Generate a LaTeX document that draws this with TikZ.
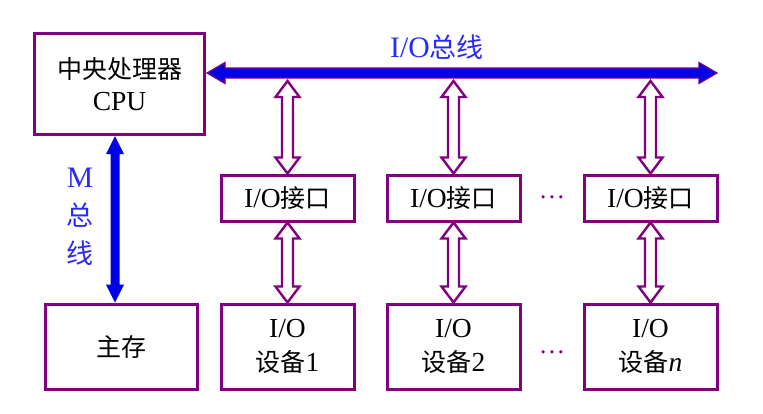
\documentclass[tikz,border=0pt]{standalone}
\usepackage{fontspec}
\setmainfont{Liberation Serif}[Scale=1.1]
\newfontfamily\cjk{Noto Sans CJK SC}
\usetikzlibrary{calc}
\definecolor{boxpurple}{RGB}{128,0,128}
\definecolor{busblue}{RGB}{0,0,230}
\definecolor{lblblue}{RGB}{40,40,255}
\newcommand\hollowv[2]{%
  \draw[hollowarrow] let \p1=(#1), \p2=(#2) in
   (\x1,\y1) -- (\x1+12pt,\y1-16pt) -- (\x1+5.5pt,\y1-16pt) -- (\x1+5.5pt,\y2+16pt)
   -- (\x1+12pt,\y2+16pt) -- (\x1,\y2) -- (\x1-12pt,\y2+16pt) -- (\x1-5.5pt,\y2+16pt)
   -- (\x1-5.5pt,\y1-16pt) -- (\x1-12pt,\y1-16pt) -- cycle;}
\begin{document}
\begin{tikzpicture}[x=1pt,y=-1pt,
  box/.style={draw=boxpurple, line width=3pt, align=center, inner sep=0pt,
    font=\fontsize{25}{34}\selectfont},
  hollowarrow/.style={draw=boxpurple, fill=white, line width=2.4pt, line join=miter},
  busarrow/.style={draw=boxpurple, fill=busblue, line width=1.2pt, line join=miter},
  marrow/.style={fill=busblue},
  lbl/.style={text=lblblue, font=\fontsize{27}{30}\selectfont, inner sep=0pt},
  dots/.style={text=boxpurple, font=\fontsize{24}{26}\selectfont, inner sep=0pt}]
\useasboundingbox (0,0) rectangle (763,413);

\node[box, minimum width=170pt, minimum height=101pt, font=\fontsize{25}{32}\selectfont] (cpu) at (119.5,84) {{\cjk 中央处理器}\\CPU};
\node[box, minimum width=152pt, minimum height=85pt] (mem) at (121,346.5) {\cjk 主存};

\node[box, minimum width=133pt, minimum height=46pt] (if1) at (287.5,198) {I/O{\cjk 接口}};
\node[box, minimum width=133pt, minimum height=46pt] (if2) at (453.5,198) {I/O{\cjk 接口}};
\node[box, minimum width=133pt, minimum height=46pt] (if3) at (650.5,198) {I/O{\cjk 接口}};

\node[box, minimum width=133pt, minimum height=85pt] (dev1) at (287.5,346.5) {I/O\\{\cjk 设备}1};
\node[box, minimum width=133pt, minimum height=85pt] (dev2) at (453.5,346.5) {I/O\\{\cjk 设备}2};
\node[box, minimum width=133pt, minimum height=85pt] (devn) at (650.5,346.5) {I/O\\{\cjk 设备}\textit{n}};

\node[dots] (d1) at (552,197) {…};
\node[dots] (d2) at (552,352) {…};

% I/O bus
\coordinate (busL) at ($(cpu.east |- 0,73)+(1,0)$);
\coordinate (busR) at (717,73);
\draw[busarrow] let \p1=(busL), \p2=(busR) in
  (\x1,\y1) -- (\x1+18pt,\y1+10.5pt) -- (\x1+18pt,\y1+5pt) -- (\x2-18pt,\y1+5pt)
  -- (\x2-18pt,\y1+10.5pt) -- (\x2,\y1) -- (\x2-18pt,\y1-10.5pt) -- (\x2-18pt,\y1-5pt)
  -- (\x1+18pt,\y1-5pt) -- (\x1+18pt,\y1-10.5pt) -- cycle;
\node[lbl] (buslbl) at (437,47) {I/O{\cjk 总线}};

% M bus
\coordinate (mx) at (115,0);
\fill[marrow] let \p1=(cpu.south -| mx), \p2=(mem.north -| mx) in
  (\x1,\y1) -- (\x1+9pt,\y1-18pt) -- (\x1+4.5pt,\y1-18pt) -- (\x1+4.5pt,\y2+18pt)
  -- (\x1+9pt,\y2+18pt) -- (\x1,\y2) -- (\x1-9pt,\y2+18pt) -- (\x1-4.5pt,\y2+18pt)
  -- (\x1-4.5pt,\y1-18pt) -- (\x1-9pt,\y1-18pt) -- cycle;
\node[lbl] (mlbl1) at (80,178) {M};
\node[lbl] (mlbl2) at (80,215) {\cjk 总};
\node[lbl] (mlbl3) at (80,253) {\cjk 线};

% hollow double arrows
\coordinate (t1) at ($(if1.north |- busL)+(0,8)$);
\coordinate (t2) at ($(if2.north |- busL)+(0,8)$);
\coordinate (t3) at ($(if3.north |- busL)+(0,8)$);
\hollowv{t1}{if1.north}
\hollowv{t2}{if2.north}
\hollowv{t3}{if3.north}
\hollowv{if1.south}{dev1.north}
\hollowv{if2.south}{dev2.north}
\hollowv{if3.south}{devn.north}
\end{tikzpicture}
\end{document}
